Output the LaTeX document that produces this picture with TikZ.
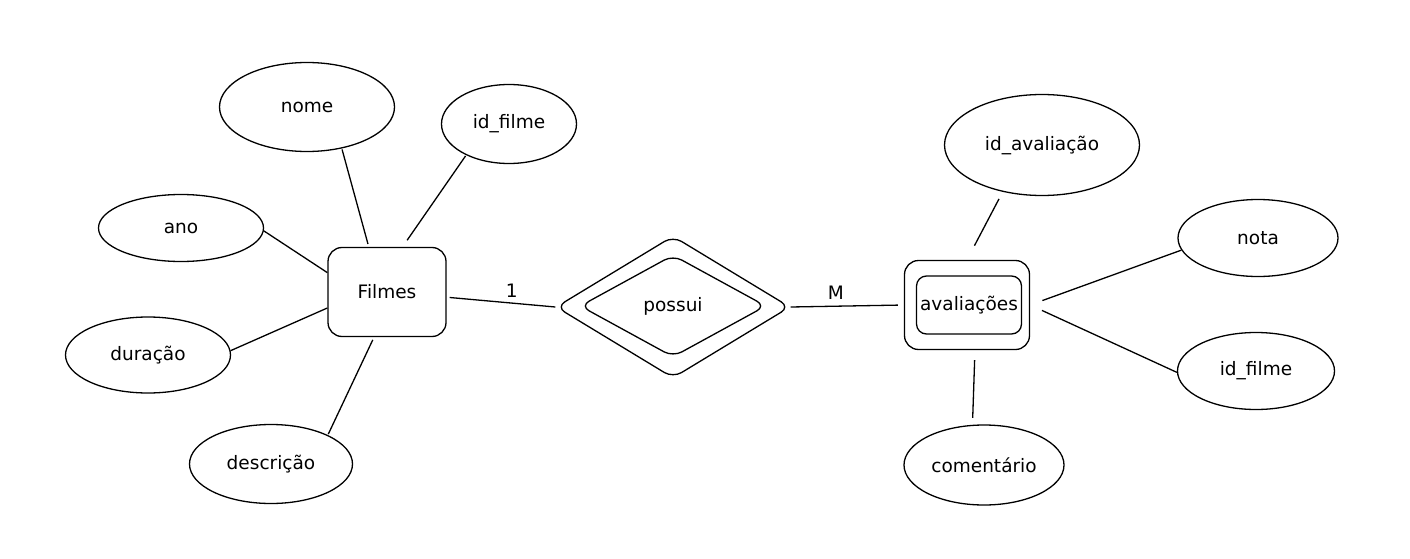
\documentclass[tikz,border=0pt]{standalone}
\usepackage{fontspec}
\setmainfont{DejaVu Sans}
\usetikzlibrary{shapes.geometric}
\begin{document}
\begin{tikzpicture}[x=1pt,y=-1pt,
  line width=1.3pt,
  every node/.style={font=\fontsize{18.5}{22}\selectfont},
  attr/.style={ellipse,draw,inner sep=0pt},
  ent/.style={rectangle,draw,rounded corners=14pt,inner sep=0pt},
  rel/.style={diamond,draw,rounded corners=10pt,inner sep=0pt},
  conn/.style={line width=1.3pt}]
\useasboundingbox (0,0) rectangle (1410,559);
% entities
\node[ent,minimum width=118pt,minimum height=89pt] (filmes) at (387,292) {Filmes};
\node[ent,minimum width=125pt,minimum height=89pt] (avalout) at (967,305) {};
\node[ent,rounded corners=10pt,minimum width=105pt,minimum height=58pt] (aval) at (969,305) {avaliações};
% relationship
\node[rel,minimum width=234pt,minimum height=142pt] (possuiout) at (673,307) {};
\node[rel,minimum width=186pt,minimum height=102pt] (possui) at (673,306) {possui};
% attributes left
\node[attr,minimum width=175pt,minimum height=89pt] (nome) at (307,107) {nome};
\node[attr,minimum width=135pt,minimum height=79pt] (idfilme) at (509,124) {id\_filme};
\node[attr,minimum width=165pt,minimum height=67pt] (ano) at (181,228) {ano};
\node[attr,minimum width=165pt,minimum height=76pt] (duracao) at (148,355) {duração};
\node[attr,minimum width=163pt,minimum height=79pt] (descricao) at (271,464) {descrição};
% attributes right
\node[attr,minimum width=195pt,minimum height=101pt] (idaval) at (1042,145) {id\_avaliação};
\node[attr,minimum width=160pt,minimum height=77pt] (nota) at (1258,238) {nota};
\node[attr,minimum width=157pt,minimum height=77pt] (idfilme2) at (1256,371) {id\_filme};
\node[attr,minimum width=160pt,minimum height=80pt] (comentario) at (984,465) {comentário};
% connectors
\draw[conn,shorten <=1pt,shorten >=3pt] (nome.-50) -- (filmes.112);
\draw[conn,shorten <=1pt,shorten >=8pt] (idfilme.216) -- (filmes.71);
\draw[conn] (ano.-2) -- (filmes.162);
\draw[conn] (duracao.3) -- (filmes.195);
\draw[conn,shorten <=1pt,shorten >=3pt] (descricao.27) -- (filmes.254);
\draw[conn,shorten <=3pt] (filmes.-5) -- (possuiout.west) node[pos=0.6,above=5pt,inner sep=0pt] (lbl1) {1};
\draw[conn,shorten >=6pt] (possuiout.east) -- (avalout.west) node[pos=0.4,above=6pt,inner sep=0pt] (lblm) {M};
\draw[conn,shorten >=16pt,shorten <=8pt] (idaval.230) -- (avalout.north);
\draw[conn,shorten >=13pt] (nota.189) -- (avalout.east);
\draw[conn,shorten >=13pt] (idfilme2.181.5) -- (avalout.east);
\draw[conn,shorten >=10pt,shorten <=7pt] (comentario.106) -- (avalout.-80);
\end{tikzpicture}
\end{document}
